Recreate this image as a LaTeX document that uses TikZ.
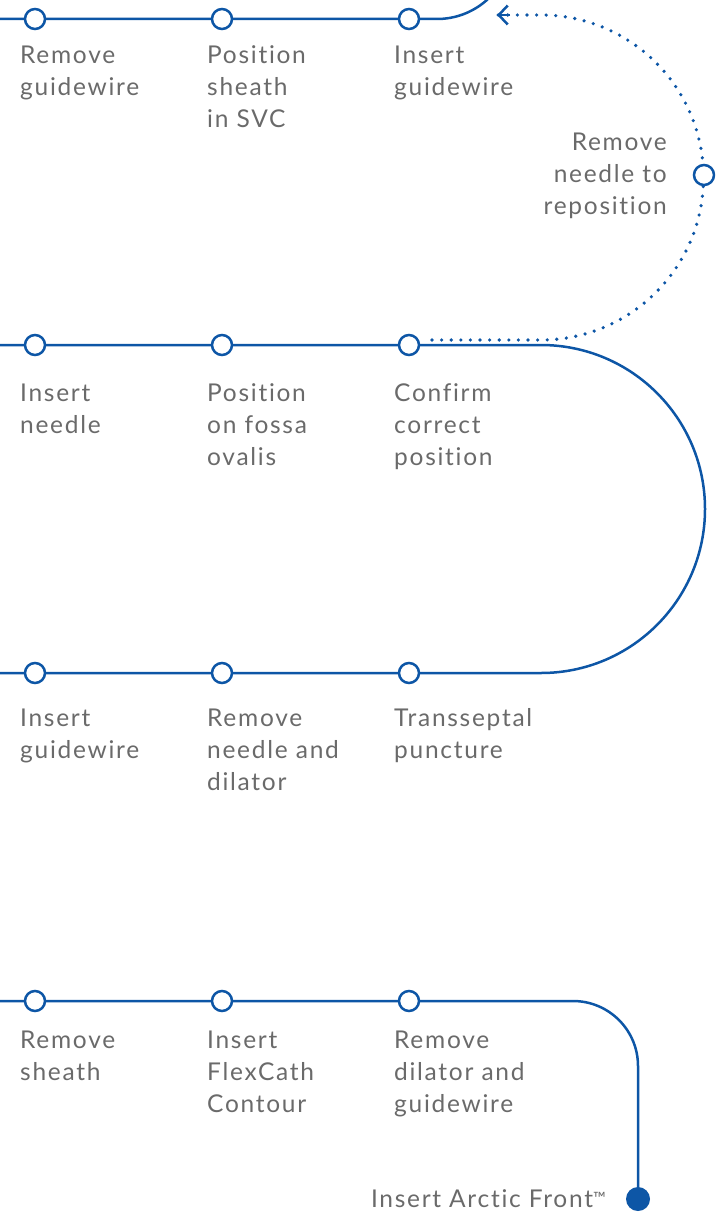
\documentclass[tikz,border=0pt]{standalone}
\usepackage{fontspec}
\setmainfont{Lato}[LetterSpace=7,Ligatures={NoCommon}]
\usetikzlibrary{arrows.meta,backgrounds}
\definecolor{mblue}{HTML}{0D56A6}
\definecolor{tgray}{HTML}{6A6A6A}
\begin{document}
\begin{tikzpicture}[x=1pt,y=-1pt,
  track/.style={draw=mblue,line width=2.5pt},
  dotline/.style={draw=mblue,line width=3.6pt,line cap=round,dash pattern=on 0pt off 9.6pt},
  stop/.style={circle,draw=mblue,fill=white,line width=2.5pt,minimum size=20pt,inner sep=0pt},
  enddot/.style={circle,fill=mblue,minimum size=24pt,inner sep=0pt},
  lbl/.style={text=tgray,font=\fontsize{24.5}{32}\selectfont,anchor=base west,align=left,text width=170pt,inner sep=0pt},
  rlbl/.style={text=tgray,font=\fontsize{24.5}{32}\selectfont,anchor=base east,align=right,text width=170pt,inner sep=0pt}]
\useasboundingbox (0,0) rectangle (715,1220);
\clip (0,0) rectangle (715,1220);
% stops
\node[stop] (c11) at (35,19) {};
\node[stop] (c12) at (222,19) {};
\node[stop] (c13) at (409,19) {};
\node[stop] (c21) at (35,345) {};
\node[stop] (c22) at (222,345) {};
\node[stop] (c23) at (409,345) {};
\node[stop] (c31) at (35,673) {};
\node[stop] (c32) at (222,673) {};
\node[stop] (c33) at (409,673) {};
\node[stop] (c41) at (35,1001) {};
\node[stop] (c42) at (222,1001) {};
\node[stop] (c43) at (409,1001) {};
\node[stop] (rp) at (704,175) {};
\node[enddot] (endd) at (638,1199) {};
\coordinate (r1L) at (0,19);
\coordinate (r2L) at (0,345);
\coordinate (r3L) at (0,673);
\coordinate (r4L) at (0,1001);
\coordinate (dstart) at (432,340);
\coordinate (dend) at (497,15);
\begin{scope}[on background layer]
\draw[track] (r1L) -- (c11.center) -- (c12.center) -- (c13.center) -- (437,19) arc[start angle=90,end angle=10,radius=75];
\draw[track] (r2L) -- (c21.center) -- (c22.center) -- (c23.center) -- (541,345) arc[start angle=-90,end angle=90,radius=164] -- (c33.center) -- (c32.center) -- (c31.center) -- (r3L);
\draw[track] (r4L) -- (c41.center) -- (c42.center) -- (c43.center) -- (573,1001) arc[start angle=-90,end angle=0,radius=65] -- (endd.center);
\draw[dotline] (dstart) -- (541,340) arc[start angle=90,end angle=-90,radius=162.5] -- (dend);
\end{scope}
\draw[mblue,line width=2.5pt,-{Straight Barb[length=9pt,width=19pt]}] (510,15) -- (dend);
% labels
\node[lbl] (l11) at (20,64) {Remove\\guidewire};
\node[lbl] (l12) at (207,64) {Position\\sheath\\in SVC};
\node[lbl] (l13) at (394,64) {Insert\\guidewire};
\node[lbl] (l21) at (20,401) {Insert\\needle};
\node[lbl] (l22) at (207,401) {Position\\on fossa\\ovalis};
\node[lbl] (l23) at (394,401) {Confirm\\correct\\position};
\node[lbl] (l31) at (20,726) {Insert\\guidewire};
\node[lbl] (l32) at (207,726) {Remove\\needle and\\dilator};
\node[lbl] (l33) at (394,726) {Transseptal\\puncture};
\node[lbl] (l41) at (20,1048) {Remove\\sheath};
\node[lbl] (l42) at (207,1048) {Insert\\FlexCath\\Contour};
\node[lbl] (l43) at (394,1048) {Remove\\dilator and\\guidewire};
\node[rlbl] (lrp) at (667,150) {Remove\\needle to\\reposition};
\node[text=tgray,font=\fontsize{24.5}{32}\selectfont,anchor=base east,inner sep=0pt] (lend) at (606,1207) {Insert Arctic Front{\fontsize{17}{17}\selectfont\raisebox{3pt}{™}}};
\end{tikzpicture}
\end{document}
